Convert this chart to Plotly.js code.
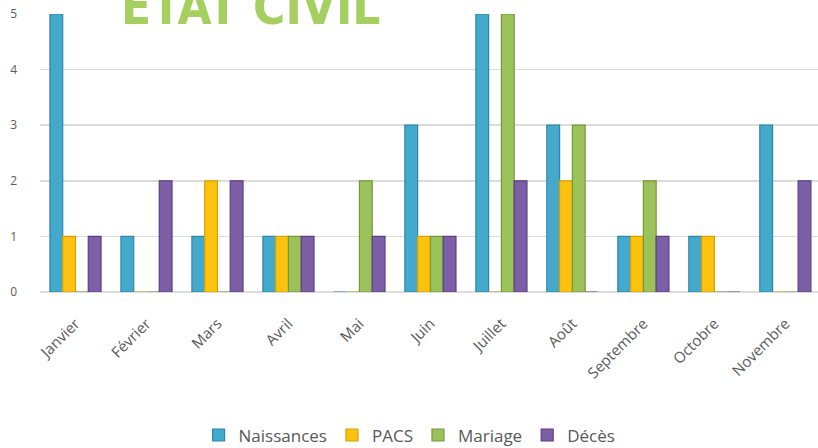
<!DOCTYPE html>
<html>
<head>
<meta charset="utf-8">
<script src="https://cdn.plot.ly/plotly-3.0.1.min.js"></script>
<style>html,body{margin:0;padding:0;background:#fff;}#chart{width:818px;height:448px;}</style>
</head>
<body>
<div id="chart"></div>
<script>
const months = ["Janvier","Février","Mars","Avril","Mai","Juin","Juillet","Août","Septembre","Octobre","Novembre"];
const naissances = [5,1,1,1,0,3,5,3,1,1,3];
const pacs       = [1,0,2,1,0,1,0,2,1,1,0];
const mariage    = [0,0,0,1,2,1,5,3,2,0,0];
const deces      = [1,2,2,1,1,1,2,0,1,0,2];
const seriesNames = ["Naissances","PACS","Mariage","Décès"];
const fills = ["#43a9cd","#fdc20e","#9cc35a","#7d5fa8"];
const edges = ["#2e87a8","#d9a000","#76983c","#5b3f85"];
const titleText = "ETAT CIVIL";

const values = [naissances, pacs, mariage, deces];
const traces = values.map((v, i) => ({
  type: "bar",
  name: seriesNames[i],
  x: months,
  y: v,
  marker: {color: fills[i], line: {color: edges[i], width: 1.2}},
  hoverinfo: "x+y+name"
}));

const layout = {
  width: 818, height: 448,
  margin: {l: 40, r: 0, t: 14, b: 156, pad: 0},
  paper_bgcolor: "#ffffff",
  plot_bgcolor: "#ffffff",
  barmode: "group",
  bargap: 0.28,
  bargroupgap: 0,
  font: {family: "Open Sans, sans-serif", color: "#595959"},
  xaxis: {
    type: "category",
    range: [-0.5, 10.46],
    tickangle: -45,
    tickfont: {size: 15, color: "#595959"},
    showgrid: false,
    showline: false,
    zeroline: false,
    ticks: "outside", ticklen: 16, tickcolor: "rgba(0,0,0,0)"
  },
  yaxis: {
    range: [0, 5],
    dtick: 1,
    tickfont: {size: 12, color: "#595959"},
    gridcolor: "#dcdcdc",
    gridwidth: 1.5,
    zeroline: true,
    zerolinecolor: "#dcdcdc",
    zerolinewidth: 1.5,
    showline: false,
    ticklabelstandoff: 22
  },
  legend: {
    orientation: "h",
    x: 0.475, xanchor: "center",
    yref: "container", y: 0.028, yanchor: "middle",
    font: {size: 17, color: "#595959"},
    itemwidth: 30,
    traceorder: "normal"
  },
  showlegend: true,
  annotations: [{
    text: "<b>" + titleText + "</b>",
    xref: "paper", yref: "paper",
    x: 0.27, y: 0.915,
    xanchor: "center", yanchor: "bottom",
    showarrow: false,
    font: {family: "Liberation Sans Narrow, DejaVu Sans Condensed, sans-serif", size: 49, color: "#a5cf5f"}
  }]
};

Plotly.newPlot("chart", traces, layout, {displayModeBar: false, staticPlot: true});
</script>
</body>
</html>
